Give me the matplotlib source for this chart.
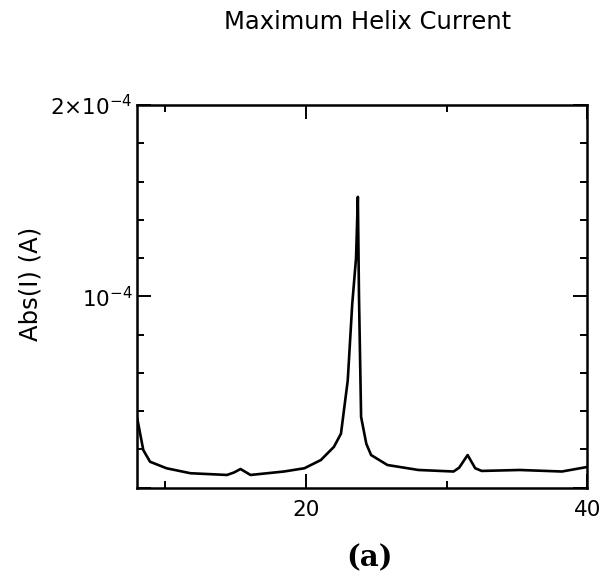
import numpy as np
import matplotlib.pyplot as plt
from matplotlib.ticker import FixedLocator, MultipleLocator

# helix current vs frequency
freq = [8.0, 8.45, 8.93, 10.1, 11.8, 14.4, 14.9, 15.36, 16.07, 18.45, 19.9, 21.07,
        22.0, 22.5, 22.98, 23.3, 23.57, 23.7, 23.78, 23.93, 24.3, 24.64, 25.8, 28.0,
        30.5, 30.9, 31.5, 32.04, 32.5, 35.2, 38.2, 40.1]
current = [0.37, 0.197, 0.136, 0.102, 0.076, 0.067, 0.080, 0.098, 0.067, 0.085, 0.102, 0.145,
           0.214, 0.283, 0.56, 0.96, 1.2, 1.52, 1.0, 0.37, 0.23, 0.171, 0.119, 0.093,
           0.085, 0.105, 0.171, 0.102, 0.088, 0.093, 0.085, 0.11]
current = np.array(current) * 1e-4

ytick_vals = [0, 1e-4, 2e-4]
ytick_text = ["", r"$10^{-4}$", r"2$\times$10$^{-4}$"]
xtick_vals = [20, 40]
xtick_text = ["20", "40"]

fig = plt.figure(figsize=(6.06, 5.80), dpi=100)
ax = fig.add_axes([0.226, 0.159, 0.743, 0.660])

ax.plot(freq, current, color="black", lw=1.9)

ax.set_xlim(8, 40)
ax.set_ylim(0, 2e-4)
ax.xaxis.set_major_locator(FixedLocator(xtick_vals))
ax.set_xticklabels(xtick_text)
ax.xaxis.set_minor_locator(FixedLocator([10, 30]))
ax.yaxis.set_major_locator(FixedLocator(ytick_vals))
ax.set_yticklabels(ytick_text)
ax.yaxis.set_minor_locator(MultipleLocator(0.2e-4))

ax.tick_params(which="both", direction="in", top=True, right=True, width=1.4, labelsize=15.5)
ax.tick_params(which="major", length=10)
ax.tick_params(which="minor", length=5)
ax.tick_params(axis="x", pad=9)
ax.tick_params(axis="y", pad=3)
for s in ax.spines.values():
    s.set_linewidth(1.8)

fig.text(0.05, 0.51, "Abs(I) (A)", rotation=90, ha="center", va="center", fontsize=17.5)
fig.text(0.607, 0.962, "Maximum Helix Current", ha="center", va="center", fontsize=17.5,
         weight="medium")
fig.text(0.61, 0.038, "(a)", ha="center", va="center", fontsize=21,
         family="DejaVu Serif", weight="bold")

fig.savefig("out.png", dpi=100)
